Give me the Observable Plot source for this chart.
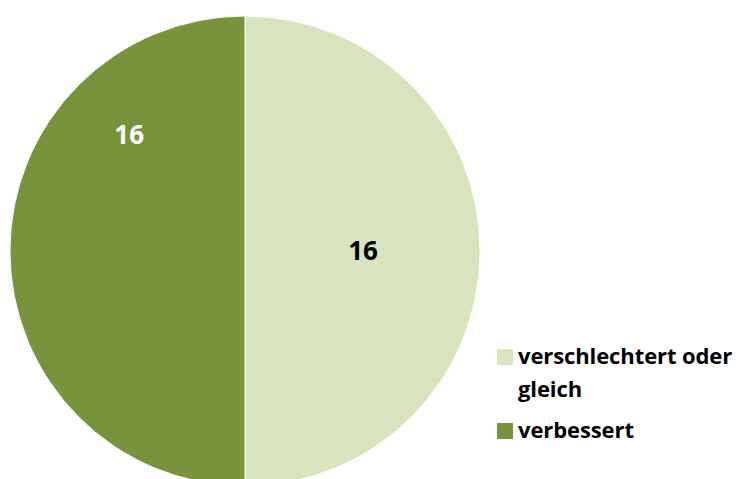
<!DOCTYPE html>
<html>
<head>
<meta charset="utf-8">
<script src="https://cdn.jsdelivr.net/npm/d3@7"></script>
<script src="https://cdn.jsdelivr.net/npm/@observablehq/plot@0.6"></script>
<style>
  html, body { margin: 0; padding: 0; background: #fff; }
  #wrap { position: relative; width: 736px; height: 479px; overflow: hidden; }
  #legend { position: absolute; left: 497px; top: 339px; font-family: "Open Sans", Lato, sans-serif; font-weight: 700; font-size: 22px; color: #000; letter-spacing: -0.1px; }
  .item { position: relative; padding-left: 21px; line-height: 33px; margin-bottom: 8px; }
  .sw { position: absolute; left: 0; top: 10px; width: 16px; height: 16px; }
</style>
</head>
<body>
<div id="wrap"><div id="chart"></div><div id="legend"></div></div>
<script>
// Data
const categories = ["verschlechtert oder gleich", "verbessert"];
const values = [16, 16];
const colors = ["#D7E4BD", "#77933C"];
const labelColors = ["#000000", "#FFFFFF"];
// label placement (as in the original: fraction of radius, angle in degrees clockwise from 12 o'clock)
const labelRadius = [0.5, 0.7];
const labelAngle = [90, 315];

const cx = 245, cy = 251, r = 235;

const pie = d3.pie().sort(null).value(d => d.value);
const rows = categories.map((c, i) => ({category: c, value: values[i], color: colors[i], labelColor: labelColors[i],
  lx: labelRadius[i] * Math.sin(labelAngle[i] * Math.PI / 180),
  ly: labelRadius[i] * Math.cos(labelAngle[i] * Math.PI / 180)}));
const arcs = pie(rows);

function pieMark(index, scales, values, dimensions, context) {
  const x0 = scales.x(0), y0 = scales.y(0);
  const rad = scales.x(1) - scales.x(0);
  const arc = d3.arc().innerRadius(0).outerRadius(rad);
  const g = d3.create("svg:g").attr("transform", `translate(${x0},${y0})`);
  g.selectAll("path").data(arcs).join("path")
    .attr("d", arc)
    .attr("fill", d => d.data.color)
    .attr("stroke", "#ffffff")
    .attr("stroke-width", 1);
  return g.node();
}

const chart = Plot.plot({
  width: 736,
  height: 479,
  margin: 0,
  x: {domain: [-1, 1], range: [cx - r, cx + r], axis: null},
  y: {domain: [-1, 1], range: [cy + r, cy - r], axis: null},
  marks: [
    pieMark,
    Plot.text(rows, {x: "lx", y: "ly", text: d => String(d.value), fill: "labelColor",
      fontSize: 26, fontWeight: "bold", fontFamily: "'Open Sans', Lato, sans-serif"})
  ]
});
chart.style.fontFamily = "'Open Sans', sans-serif";
document.getElementById("chart").appendChild(chart);

const legend = document.getElementById("legend");
const legendLines = [["verschlechtert oder", "gleich"], ["verbessert"]];
rows.forEach((d, i) => {
  const item = document.createElement("div");
  item.className = "item";
  const sw = document.createElement("div");
  sw.className = "sw";
  sw.style.background = d.color;
  item.appendChild(sw);
  legendLines[i].forEach((t, j) => {
    if (j > 0) item.appendChild(document.createElement("br"));
    item.appendChild(document.createTextNode(t));
  });
  legend.appendChild(item);
});
</script>
</body>
</html>
